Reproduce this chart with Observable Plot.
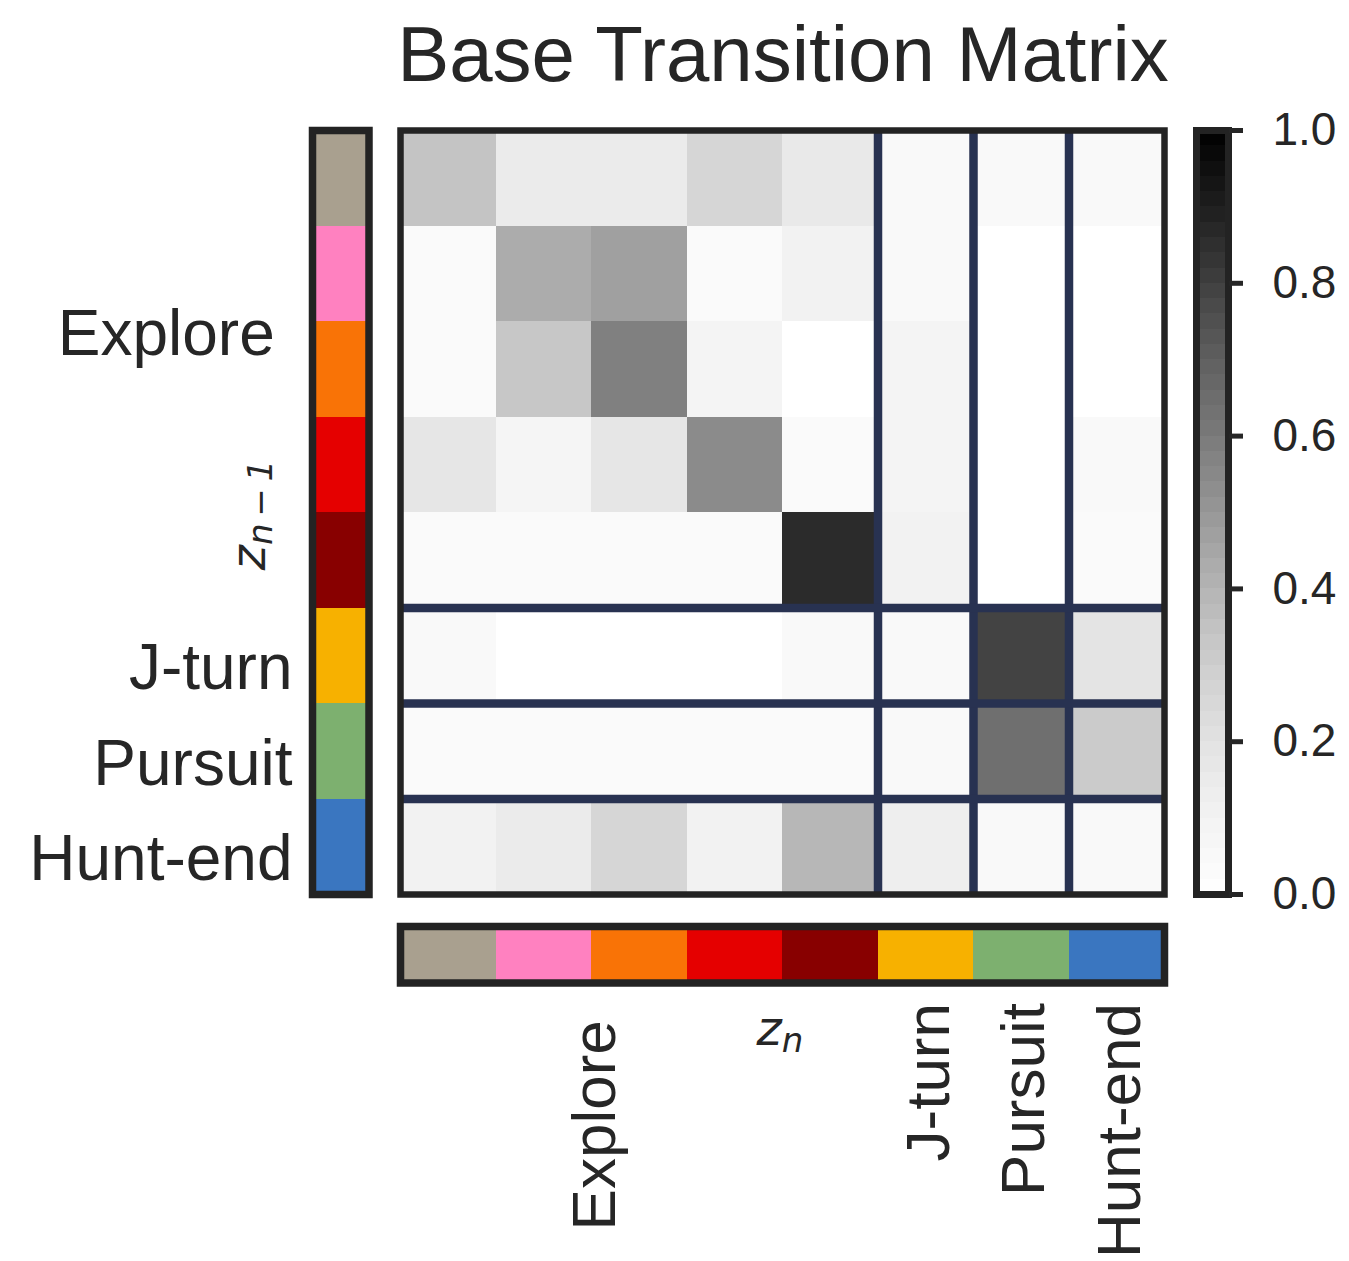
<!DOCTYPE html>
<html>
<head>
<meta charset="utf-8">
<script src="https://cdn.jsdelivr.net/npm/d3@7"></script>
<script src="https://cdn.jsdelivr.net/npm/@observablehq/plot@0.6"></script>
<style>
  body { margin: 0; background: #fff; }
  #fig { position: relative; width: 1349px; height: 1261px; overflow: hidden;
         font-family: "Liberation Sans", Arial, sans-serif; color: #262626; }
  #fig > svg, #fig > div { position: absolute; }
  .title { left: 383px; width: 800px; top: 15px; text-align: center; font-size: 78px; line-height: 78px; white-space: nowrap; }
  .math { font-family: "DejaVu Sans", sans-serif; font-style: italic; font-size: 48px; line-height: 1; white-space: nowrap; }
  .math sub { font-size: 34px; vertical-align: -7px; line-height: 1; }
</style>
</head>
<body>
<div id="fig"></div>
<script>
// ---------------- data ----------------
const states = ["Explore 1", "Explore 2", "Explore 3", "Explore 4", "Explore 5", "J-turn", "Pursuit", "Hunt-end"];
const stateColors = ["#a9a08f", "#ff81c0", "#f97306", "#e50000", "#880000", "#f7b100", "#7db06f", "#3a76c0"];
const groups = ["Explore", "J-turn", "Pursuit", "Hunt-end"];
const groupSizes = [5, 1, 1, 1];
const groupTickLabels = ["Explore\u00a0", "J-turn", "Pursuit", "Hunt-end"];
const groupTickPositions = [2, 5.5, 6.5, 7.5];
const colorbarTicks = [0, 0.2, 0.4, 0.6, 0.8, 1.0];
// rows: z_{n-1}, columns: z_n
const row0 = [0.34, 0.15, 0.15, 0.26, 0.16, 0.05, 0.05, 0.05];
const row1 = [0.04, 0.43, 0.47, 0.04, 0.10, 0.05, 0.00, 0.00];
const row2 = [0.04, 0.33, 0.58, 0.09, 0.00, 0.09, 0.00, 0.00];
const row3 = [0.18, 0.08, 0.18, 0.54, 0.04, 0.09, 0.00, 0.05];
const row4 = [0.04, 0.04, 0.04, 0.04, 0.86, 0.10, 0.00, 0.04];
const row5 = [0.05, 0.00, 0.00, 0.00, 0.05, 0.05, 0.79, 0.19];
const row6 = [0.04, 0.04, 0.04, 0.04, 0.04, 0.05, 0.64, 0.31];
const row7 = [0.10, 0.15, 0.26, 0.10, 0.39, 0.13, 0.05, 0.05];
const matrix = [row0, row1, row2, row3, row4, row5, row6, row7];

// ---------------- derived tables ----------------
const n = states.length;
const cells = matrix.flatMap((row, i) => row.map((v, j) => ({from: i, to: j, value: v})));
const stripData = states.map((s, i) => ({i, state: s, color: stateColors[i]}));
const boundaries = d3.cumsum(groupSizes).slice(0, -1);
const tickData = groups.map((g, k) => ({group: g, label: groupTickLabels[k], pos: groupTickPositions[k]}));
const ramp = d3.range(0, 1, 0.02);

const navy = "#283251";
const frameColor = "#232323";
const textColor = "#262626";
const font = "'Liberation Sans', Arial, sans-serif";
const fig = document.getElementById("fig");

function place(el, left, top) { el.style.left = left + "px"; el.style.top = top + "px"; fig.appendChild(el); }

// ---------------- heatmap ----------------
const heat = Plot.plot({
  width: 780, height: 780, marginTop: 8, marginBottom: 8, marginLeft: 8, marginRight: 8,
  style: {fontFamily: font, color: textColor, background: "transparent", overflow: "visible"},
  x: {domain: [0, n], axis: null},
  y: {domain: [0, n], reverse: true, axis: null},
  color: {type: "linear", scheme: "greys", domain: [0, 1]},
  marks: [
    Plot.rect(cells, {x1: "to", x2: d => d.to + 1, y1: "from", y2: d => d.from + 1, fill: "value", shapeRendering: "crispEdges"}),
    Plot.ruleX(boundaries, {stroke: navy, strokeWidth: 8.5}),
    Plot.ruleY(boundaries, {stroke: navy, strokeWidth: 8.5}),
    Plot.frame({stroke: frameColor, strokeWidth: 6.5})
  ]
});
place(heat, 392, 122);

// ---------------- left colour strip + labels ----------------
const left = Plot.plot({
  width: 376.5, height: 780, marginTop: 8, marginBottom: 8, marginLeft: 312, marginRight: 8,
  style: {fontFamily: font, color: textColor, background: "transparent", overflow: "visible"},
  y: {domain: [0, n], reverse: true, axis: null},
  color: {type: "identity"},
  marks: [
    Plot.barY(stripData, {y1: "i", y2: d => d.i + 1, fill: "color", shapeRendering: "crispEdges"}),
    Plot.frame({stroke: frameColor, strokeWidth: 7.5}),
    Plot.text(tickData, {y: "pos", text: "label", frameAnchor: "left", textAnchor: "end", dx: -20, dy: 13, fontSize: 64, fill: textColor})
  ]
});
place(left, 0, 122);

// ---------------- bottom colour strip + labels ----------------
const bottom = Plot.plot({
  width: 780, height: 343.5, marginTop: 8, marginBottom: 279, marginLeft: 8, marginRight: 8,
  style: {fontFamily: font, color: textColor, background: "transparent", overflow: "visible"},
  x: {domain: [0, n], axis: null},
  color: {type: "identity"},
  marks: [
    Plot.barX(stripData, {x1: "i", x2: d => d.i + 1, fill: "color", shapeRendering: "crispEdges"}),
    Plot.frame({stroke: frameColor, strokeWidth: 7.5}),
    Plot.text(tickData, {x: "pos", text: "label", frameAnchor: "bottom", rotate: -90, textAnchor: "end", dx: 23, dy: 20, fontSize: 62, fill: textColor})
  ]
});
place(bottom, 392, 917.5);

// ---------------- colour bar ----------------
const cbar = Plot.plot({
  width: 161.5, height: 780, marginTop: 8, marginBottom: 8, marginLeft: 8, marginRight: 121.5,
  style: {fontFamily: font, color: textColor, background: "transparent", overflow: "visible"},
  y: {domain: [0, 1]},
  color: {type: "linear", scheme: "greys", domain: [0, 1]},
  marks: [
    Plot.barY(ramp, {y1: d => d, y2: d => d + 0.02, fill: d => d + 0.01, shapeRendering: "crispEdges"}),
    Plot.frame({stroke: frameColor, strokeWidth: 7}),
    Plot.axisY({anchor: "right", ticks: colorbarTicks, tickSize: 14, tickPadding: 30, tickFormat: d3.format(".1f"), fontSize: 46, strokeWidth: 5, label: null})
  ]
});
place(cbar, 1187.5, 122);

// ---------------- texts ----------------
const title = document.createElement("div");
title.className = "title";
title.textContent = "Base Transition Matrix";
fig.appendChild(title);

const zn = document.createElement("div");
zn.className = "math";
zn.innerHTML = "z<sub>n</sub>";
zn.style.transform = "translate(-50%, -50%)";
place(zn, 780, 1030);

const zn1 = document.createElement("div");
zn1.className = "math";
zn1.innerHTML = "z<sub>n\u2009\u2212\u20091</sub>";
zn1.style.transform = "translate(-50%, -50%) rotate(-90deg)";
place(zn1, 250, 515);
</script>
</body>
</html>
